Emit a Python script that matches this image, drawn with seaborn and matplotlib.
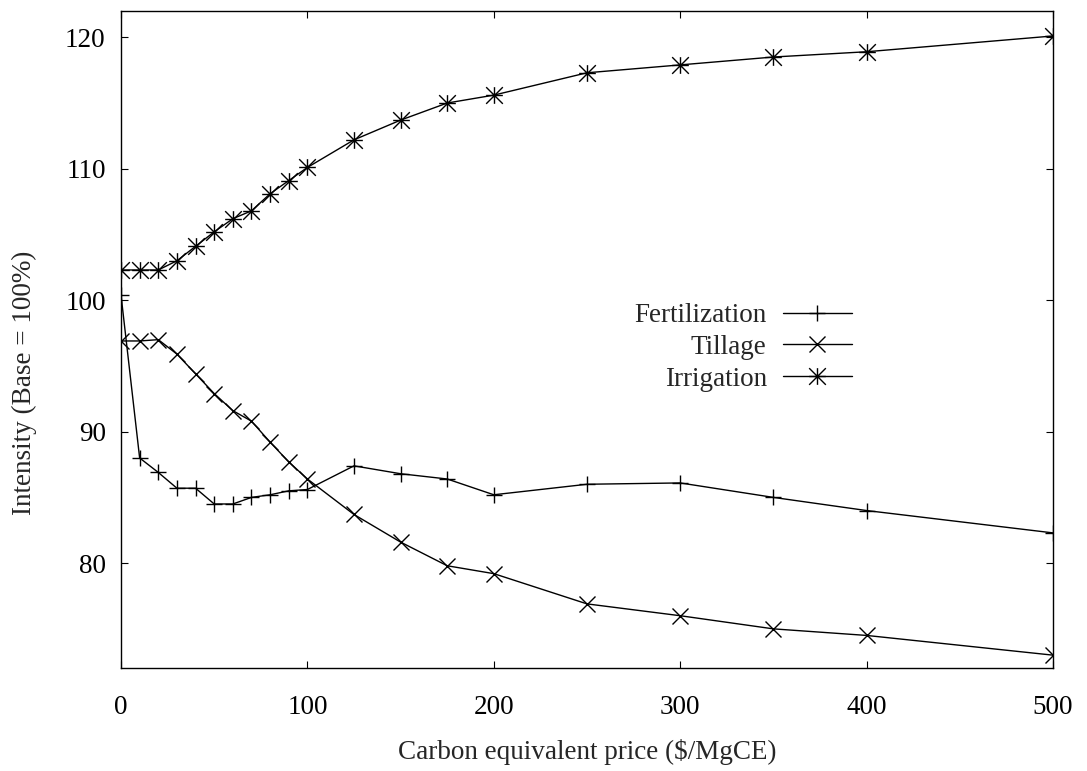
import matplotlib
matplotlib.use("Agg")
import matplotlib.pyplot as plt
from matplotlib.path import Path
import pandas as pd
import seaborn as sns

# Values
price = [0, 10, 20, 30, 40, 50, 60, 70, 80, 90, 100, 125, 150, 175, 200, 250, 300, 350, 400, 500]
fertilization = [100.4, 88.0, 86.9, 85.7, 85.7, 84.5, 84.5, 85.0, 85.2, 85.5, 85.6,
                 87.4, 86.8, 86.4, 85.2, 86.0, 86.1, 85.0, 84.0, 82.3]
tillage = [96.9, 96.9, 97.0, 95.9, 94.4, 92.9, 91.6, 90.8, 89.2, 87.7, 86.4,
           83.7, 81.6, 79.8, 79.2, 76.9, 76.0, 75.0, 74.5, 73.0]
irrigation = [102.3, 102.3, 102.3, 103.0, 104.1, 105.2, 106.2, 106.8, 108.1, 109.1, 110.1,
              112.2, 113.7, 115.0, 115.6, 117.3, 117.9, 118.5, 118.9, 120.1]

x_ticks = [0, 100, 200, 300, 400, 500]
y_ticks = [80, 90, 100, 110, 120]

sns.set_theme(style="ticks")
plt.rcParams["font.family"] = ["Liberation Serif", "DejaVu Serif"]
plt.rcParams["font.size"] = 19.5

# gnuplot style asterisk: a plus and a cross on top of each other
star = Path([(-1, 0), (1, 0), (0, -1), (0, 1), (-1, -1), (1, 1), (-1, 1), (1, -1)],
            [Path.MOVETO, Path.LINETO] * 4)

df = pd.DataFrame({"price": price, "Fertilization": fertilization,
                   "Tillage": tillage, "Irrigation": irrigation})

fig = plt.figure(figsize=(10.87, 7.71), dpi=100)
ax = fig.add_axes([121 / 1087, 1 - 668.3 / 771, (1053 - 121) / 1087, (668.3 - 11) / 771])

for name, mk, ms in [("Fertilization", "+", 11), ("Tillage", "x", 11), ("Irrigation", star, 12)]:
    sns.lineplot(data=df, x="price", y=name, ax=ax, label=name, color="black",
                 linewidth=1.0, marker=mk, markersize=ms, mec="black", mfc="none", mew=1.0)

ax.set_xlim(0, 500)
ax.set_ylim(72, 122)
ax.set_xticks(x_ticks)
ax.set_yticks(y_ticks)
ax.tick_params(direction="in", length=5, width=0.8, top=True, right=True,
               labelsize=19.5, colors="black")
ax.tick_params(axis="x", pad=19)
ax.tick_params(axis="y", pad=11)
for s in ax.spines.values():
    s.set_color("black")
    s.set_linewidth(1.0)

ax.set_xlabel("Carbon equivalent price ($/MgCE)", fontsize=19.5, labelpad=14)
ax.set_ylabel("Intensity (Base = 100%)", fontsize=19.5)
ax.yaxis.set_label_coords(-0.09, 0.435)

ax.legend(loc="upper right", bbox_to_anchor=(852 / 1087, 1 - 303 / 771),
          bbox_transform=fig.transFigure, frameon=False, markerfirst=False,
          handlelength=2.55, handletextpad=0.6, labelspacing=0.25,
          borderpad=0, borderaxespad=0, fontsize=19.5)

fig.savefig("out.png", dpi=100)
